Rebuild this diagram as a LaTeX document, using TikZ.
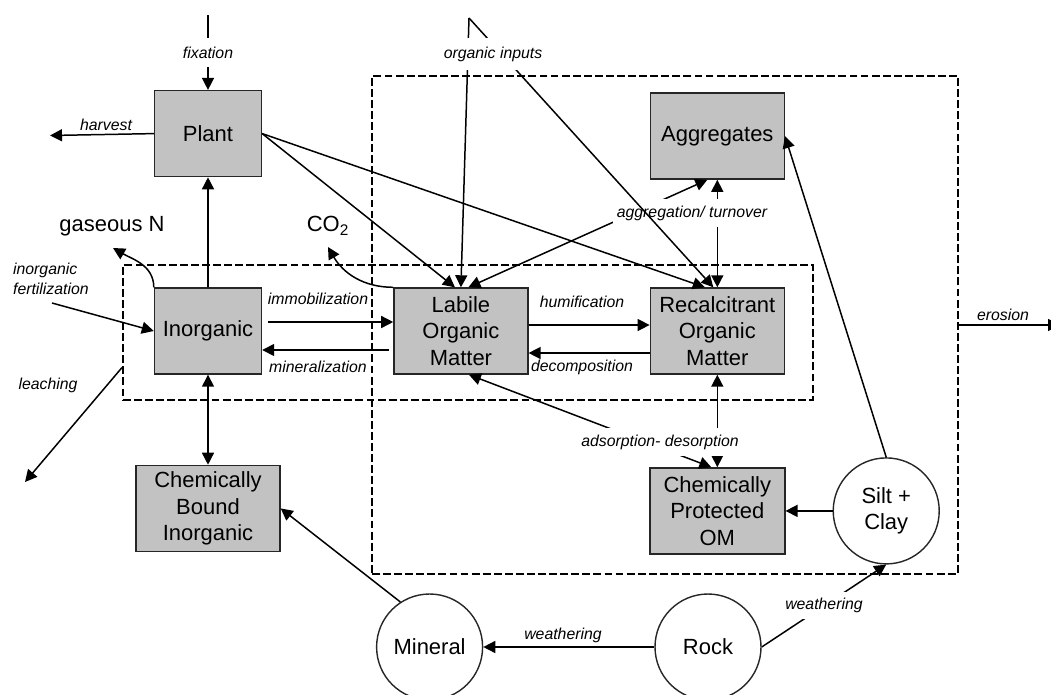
\documentclass[tikz,border=0pt]{standalone}
\usepackage{fontspec}
\setmainfont{Liberation Sans}
\usetikzlibrary{arrows.meta, positioning, calc}
\tikzset{
	compartment/.style={rectangle, draw=black!85, fill=black!24, line width=0.8pt, align=center, minimum height=1.72cm, inner sep=2pt, font=\fontsize{12.5}{15}\selectfont},
	source/.style={circle, draw=black!85, fill=white, line width=0.8pt, align=center, minimum size=2.12cm, inner sep=0pt, font=\fontsize{12.5}{15}\selectfont},
	boundary/.style={rectangle, draw=black, dash pattern=on 4.5pt off 1.8pt, line width=1.1pt, inner sep=0pt},
	flux/.style={-{Triangle[length=2.4mm, width=2.4mm]}, line width=0.85pt},
	twoway/.style={{Triangle[length=2.4mm, width=2.4mm]}-{Triangle[length=2.4mm, width=2.4mm]}, line width=0.85pt},
	fluxlabel/.style={fill=white, inner xsep=2pt, inner ysep=3.5pt, font=\fontsize{9}{11}\selectfont\itshape},
	tag/.style={inner sep=1pt, font=\fontsize{9}{11}\selectfont\itshape},
	gas/.style={inner sep=1pt, font=\fontsize{12.5}{15}\selectfont},
}
\begin{document}
\begin{tikzpicture}[node distance=1cm]
		\useasboundingbox (0,0) rectangle (21.02,-13.88);
		\node[boundary, minimum width=11.72cm, minimum height=9.96cm] (soil) at (13.30,-6.50) {};
		\node[boundary, minimum width=13.8cm, minimum height=2.7cm] (active) at (9.36,-6.65) {};
		\node[compartment, minimum width=2.14cm] (inorg) at (4.16,-6.62) {Inorganic};
		\node[compartment, minimum width=2.14cm, above=2.2cm of inorg] (plant) {Plant};
		\node[compartment, minimum width=2.68cm, right=2.62cm of inorg] (labile) {Labile\\Organic\\Matter};
		\node[compartment, minimum width=2.68cm, right=2.42cm of labile] (recalc) {Recalcitrant\\Organic\\Matter};
		\node[compartment, minimum width=2.68cm, above=2.15cm of recalc] (agg) {Aggregates};
		\node[compartment, minimum width=2.88cm, below=1.8cm of inorg] (bound) {Chemically\\Bound\\Inorganic};
		\node[compartment, minimum width=2.7cm, below=1.85cm of recalc] (protect) {Chemically\\Protected\\OM};
		\node[source, right=0.94cm of protect] (silt) {Silt +\\Clay};
		\node[source] (rock) at (14.16,-12.94) {Rock};
		\node[source, left=3.42cm of rock] (mineral) {Mineral};
		\coordinate (fixtop) at (4.16,-0.30);
		\coordinate (harvestend) at (1.0,-2.71);
		\coordinate (inputs) at (9.38,-0.36);
		\coordinate (fert) at (1.04,-6.06);
		\coordinate (leachend) at (0.5,-9.64);
		\coordinate (gasend) at (2.26,-4.96);
		\coordinate (coend) at (6.56,-4.94);
		\coordinate (erosionend) at (21.2,-6.50);
		\draw[flux] (fixtop) -- node[fluxlabel, inner ysep=5pt] (fixlabel) {fixation} (plant.north);
		\draw[flux] (plant.west) -- (harvestend);
		\node[tag] (harvestlabel) at (2.12,-2.50) {harvest};
		\draw[flux] (inorg) -- (plant);
		\draw[twoway] (inorg) -- (bound);
		\draw[flux] (plant.east) -- ([xshift=-0.12cm]labile.north);
		\draw[flux] (plant.east) -- ([xshift=-0.25cm]recalc.north);
		\draw[flux] ([xshift=0.12cm, yshift=0.18cm]inorg.east) -- ([yshift=0.18cm]labile.west);
		\draw[flux] ([xshift=-0.08cm, yshift=-0.38cm]labile.west) -- ([yshift=-0.38cm]inorg.east);
		\node[tag] (immolabel) at (6.36,-5.98) {immobilization};
		\node[tag] (minlabel) at (6.36,-7.34) {mineralization};
		\draw[flux] ([yshift=0.12cm]labile.east) -- ([yshift=0.12cm]recalc.west);
		\draw[flux] ([yshift=-0.44cm]recalc.west) -- ([yshift=-0.44cm]labile.east);
		\node[tag] (humlabel) at (11.64,-6.04) {humification};
		\node[tag] (declabel) at (11.64,-7.34) {decomposition};
		\draw[flux] (inorg.north west) to[out=90, in=-30] (gasend);
		\node[gas] (gasN) at (2.24,-4.52) {gaseous N};
		\draw[flux] (labile.north west) to[out=180, in=-60] (coend);
		\node[gas] (co2) at (6.56,-4.52) {CO\textsubscript{2}};
		\draw[flux] (fert) -- (inorg.west);
		\node[tag, anchor=west, align=left] (fertlabel) at (0.22,-5.58) {inorganic\\fertilization};
		\draw[flux] ($(active.west)+(0,-0.7)$) -- (leachend);
		\node[tag] (leachlabel) at (0.96,-7.70) {leaching};
		\draw[twoway] (recalc.north) -- (agg.south);
		\draw[twoway] ([xshift=0.15cm]labile.north) -- ([xshift=-0.2cm]agg.south);
		\node[fluxlabel] (agglabel) at (13.84,-4.26) {aggregation/\ turnover};
		\draw[flux] (inputs) -- (labile.north);
		\draw[flux] (inputs) -- ([xshift=-0.08cm]recalc.north);
		\node[fluxlabel, inner ysep=5pt] (inputlabel) at (9.86,-1.08) {organic inputs};
		\draw[twoway] (recalc.south) -- (protect.north);
		\draw[twoway] ([xshift=0.16cm]labile.south) -- ([xshift=-0.12cm]protect.north);
		\node[fluxlabel] (adslabel) at (13.20,-8.84) {adsorption- desorption};
		\draw[flux] (silt) -- (protect);
		\draw[flux] (silt.north) -- (agg.east);
		\draw[flux] (rock) -- (mineral);
		\node[tag] (weathlabel) at (11.26,-12.70) {weathering};
		\draw[flux] (rock.east) -- node[fluxlabel] (siltweath) {weathering} (silt.south);
		\draw[flux] (mineral.123) -- (bound.east);
		\draw[flux] (soil.east) -- (erosionend);
		\node[tag] (erosionlabel) at (20.06,-6.30) {erosion};
	\end{tikzpicture}
\end{document}
